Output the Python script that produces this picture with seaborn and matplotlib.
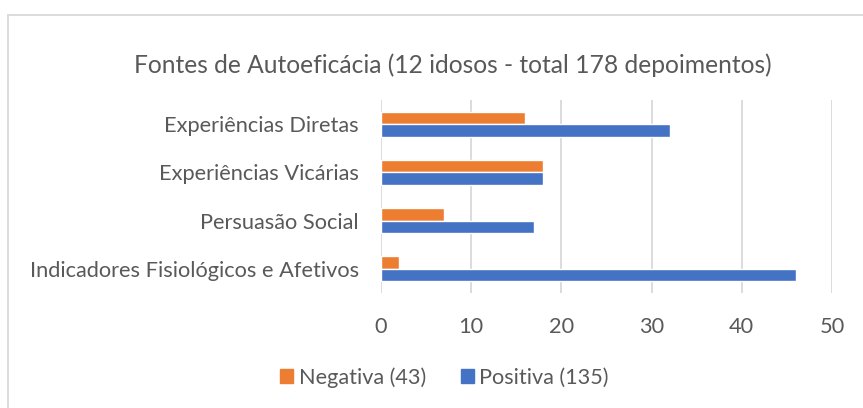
import matplotlib
matplotlib.use("Agg")
import matplotlib.pyplot as plt
import pandas as pd
import seaborn as sns
from matplotlib.patches import Rectangle

categories = [
    "Experiências Diretas",
    "Experiências Vicárias",
    "Persuasão Social",
    "Indicadores Fisiológicos e Afetivos",
]
negativa = [16, 18, 7, 2]
positiva = [32, 18, 17, 46]
series_labels = ["Negativa (43)", "Positiva (135)"]
title = "Fontes de Autoeficácia (12 idosos - total 178 depoimentos)"
x_ticks = [0, 10, 20, 30, 40, 50]

df = pd.DataFrame({
    "categoria": categories * 2,
    "valor": negativa + positiva,
    "serie": [series_labels[0]] * len(categories) + [series_labels[1]] * len(categories),
})

sns.set_theme(style="white")
plt.rcParams["font.family"] = ["Lato", "DejaVu Sans"]
text_color = "#595959"
palette = {series_labels[0]: "#ED7D31", series_labels[1]: "#4472C4"}

fig = plt.figure(figsize=(8.63, 4.08), dpi=100)
ax = fig.add_axes([0.4415, 0.282, 0.5225, 0.473])

sns.barplot(data=df, y="categoria", x="valor", hue="serie", palette=palette,
            order=categories, hue_order=series_labels, orient="h",
            width=0.52, ax=ax, legend=False, saturation=1)

ax.set_xlim(0, 50)
ax.set_xticks(x_ticks)
ax.xaxis.grid(True, color="#D9D9D9", linewidth=1.3)
ax.set_axisbelow(True)
for s in ax.spines.values():
    s.set_visible(False)
ax.set_xlabel("")
ax.set_ylabel("")
ax.tick_params(axis="both", length=0, labelsize=15.7, colors=text_color)
ax.tick_params(axis="y", pad=16)
ax.tick_params(axis="x", pad=17)

fig.text(0.525, 0.84, title, ha="center", va="center", fontsize=17.7, color=text_color)

handles = [Rectangle((0, 0), 1, 1, color=palette[s]) for s in series_labels]
fig.legend(handles, series_labels, loc="center", bbox_to_anchor=(0.515, 0.075),
           ncol=2, frameon=False, fontsize=15.6, labelcolor=text_color,
           handlelength=0.6, handleheight=0.6, handletextpad=0.25, columnspacing=1.6)

fig.patches.append(Rectangle((8 / 863, -0.1), 1.2, 1 - 15 / 408 + 0.1, transform=fig.transFigure,
                             fill=False, edgecolor="#D9D9D9", linewidth=1.3))

fig.savefig("out.png", dpi=100)
